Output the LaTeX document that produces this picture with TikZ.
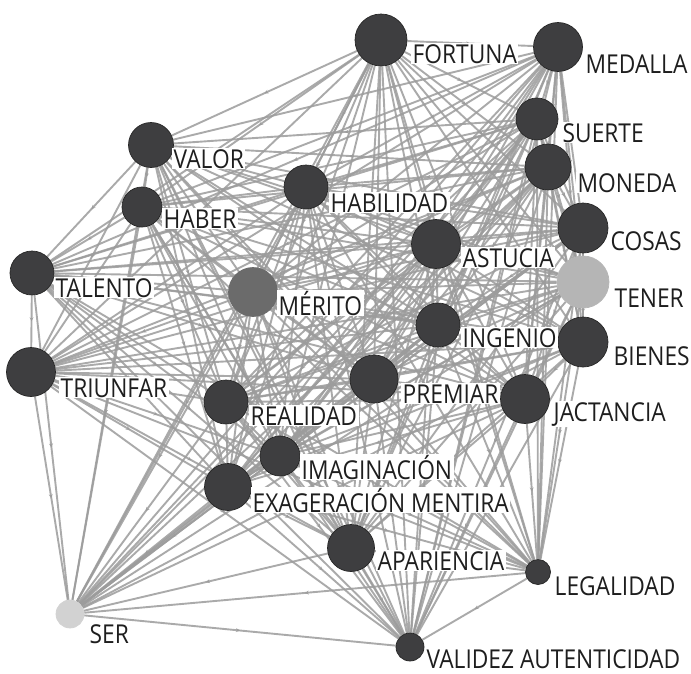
\documentclass[tikz,border=0pt]{standalone}
\usepackage{fontspec}
\setmainfont{Open Sans}[FakeStretch=0.875]
\usetikzlibrary{decorations.markings,arrows.meta}
\pgfdeclarelayer{paper}
\pgfdeclarelayer{links}
\pgfsetlayers{paper,links,main}
\definecolor{hubdark}{HTML}{3E3E40}
\definecolor{hubmid}{HTML}{6B6B6B}
\definecolor{hublight}{HTML}{B5B5B5}
\definecolor{hubpale}{HTML}{D2D2D2}
\definecolor{linkgray}{HTML}{9C9C9C}
\definecolor{labeltext}{HTML}{1E1E1E}
\tikzset{
  hub/.style={circle, draw=black!85, line width=0.7pt, fill=hubdark, inner sep=0pt},
  link/.style={draw=linkgray, line width=1.9pt, opacity=0.85,
    postaction={decorate, decoration={markings,
      mark=at position 0.5 with {\arrow[linkgray]{Stealth[length=4pt,width=4pt]}}}}},
  tag/.style={anchor=base west, fill=white, inner xsep=1.5pt, inner ysep=1pt,
    text=labeltext, font=\fontsize{26}{28}\selectfont},
}
\begin{document}
\begin{tikzpicture}[x=1pt,y=-1pt]
\useasboundingbox (0,0) rectangle (691,673);
\begin{pgfonlayer}{paper}
\fill[white] (0,0) rectangle (691,673);
\end{pgfonlayer}

% concept nodes
\node[hub, minimum size=52pt] (fortuna)   at (381,40)  {};
\node[hub, minimum size=49pt] (medalla)   at (558,47)  {};
\node[hub, minimum size=42pt] (suerte)    at (537,119) {};
\node[hub, minimum size=46pt] (moneda)    at (548,167) {};
\node[hub, minimum size=45pt] (valor)     at (151,145) {};
\node[hub, minimum size=40pt] (haber)     at (142,207) {};
\node[hub, minimum size=44pt] (habilidad) at (306,187) {};
\node[hub, minimum size=49pt] (astucia)   at (436,244) {};
\node[hub, minimum size=50pt] (cosas)     at (583,228) {};
\node[hub, minimum size=52pt, fill=hublight, draw=hublight] (tener) at (583,282) {};
\node[hub, minimum size=44pt] (talento)   at (32,273)  {};
\node[hub, minimum size=49pt, fill=hubmid, draw=hubmid] (merito) at (253,292) {};
\node[hub, minimum size=44pt] (ingenio)   at (438,325) {};
\node[hub, minimum size=50pt] (bienes)    at (583,342) {};
\node[hub, minimum size=49pt] (triunfar)  at (31,372)  {};
\node[hub, minimum size=48pt] (premiar)   at (374,379) {};
\node[hub, minimum size=44pt] (realidad)  at (226,402) {};
\node[hub, minimum size=49pt] (jactancia) at (525,399) {};
\node[hub, minimum size=40pt] (imaginacion) at (280,456) {};
\node[hub, minimum size=47pt] (exageracion) at (228,487) {};
\node[hub, minimum size=47pt] (apariencia)  at (351,548) {};
\node[hub, minimum size=25pt] (legalidad)   at (538,572) {};
\node[hub, minimum size=28pt, fill=hubpale, draw=hubpale] (ser) at (70,614) {};
\node[hub, minimum size=28pt] (validez)     at (410,647) {};

% links between every pair of concepts, kept beneath the circles
\begin{pgfonlayer}{links}
\foreach \a [count=\i] in {fortuna,medalla,suerte,moneda,valor,haber,habilidad,astucia,cosas,tener,talento,merito,ingenio,bienes,triunfar,premiar,realidad,jactancia,imaginacion,exageracion,apariencia,legalidad,ser,validez}{
  \foreach \b [count=\j] in {fortuna,medalla,suerte,moneda,valor,haber,habilidad,astucia,cosas,tener,talento,merito,ingenio,bienes,triunfar,premiar,realidad,jactancia,imaginacion,exageracion,apariencia,legalidad,ser,validez}{
    \ifnum\j>\i
      \path[link] (\a) -- (\b);
    \fi
  }
}
\end{pgfonlayer}

% labels
\node[tag] (fortuna-lab)   at (411,63)  {FORTUNA};
\node[tag] (medalla-lab)   at (584,73)  {MEDALLA};
\node[tag] (suerte-lab)    at (561,142) {SUERTE};
\node[tag] (moneda-lab)    at (576,192) {MONEDA};
\node[tag] (valor-lab)     at (172,168) {VALOR};
\node[tag] (haber-lab)     at (162,228) {HABER};
\node[tag] (habilidad-lab) at (329,212) {HABILIDAD};
\node[tag] (astucia-lab)   at (461,267) {ASTUCIA};
\node[tag] (cosas-lab)     at (609,250) {COSAS};
\node[tag] (tener-lab)     at (613,307) {TENER};
\node[tag] (talento-lab)   at (54,297)  {TALENTO};
\node[tag] (merito-lab)    at (277,315) {MÉRITO};
\node[tag] (ingenio-lab)   at (461,347) {INGENIO};
\node[tag] (bienes-lab)    at (612,365) {BIENES};
\node[tag] (triunfar-lab)  at (59,397)  {TRIUNFAR};
\node[tag] (premiar-lab)   at (401,403) {PREMIAR};
\node[tag] (realidad-lab)  at (249,425) {REALIDAD};
\node[tag] (jactancia-lab) at (552,421) {JACTANCIA};
\node[tag] (imaginacion-lab) at (300,479) {IMAGINACIÓN};
\node[tag] (exageracion-lab) at (251,512) {EXAGERACIÓN MENTIRA};
\node[tag] (apariencia-lab)  at (376,570) {APARIENCIA};
\node[tag] (legalidad-lab)   at (553,595) {LEGALIDAD};
\node[tag] (ser-lab)         at (88,643)  {SER};
\node[tag] (validez-lab)     at (425,668) {VALIDEZ AUTENTICIDAD};
\end{tikzpicture}
\end{document}
